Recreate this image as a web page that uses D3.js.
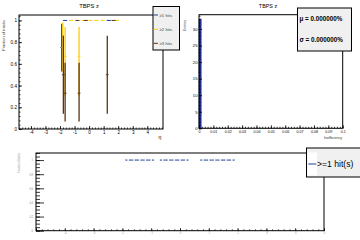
<!DOCTYPE html>
<html>
<head>
<meta charset="utf-8">
<script src="https://cdn.jsdelivr.net/npm/d3@7"></script>
<style>
  html, body { margin: 0; padding: 0; background: #fff; }
  svg { display: block; font-family: "Liberation Sans", Arial, sans-serif; }
</style>
</head>
<body>
<div id="chart"></div>
<script>
// ---- data ----
const panelTitle = "TBPS z";
const seriesNames = ["≥1 hits", "≥2 hits", "≥3 hits"];

// eta bins where the efficiency is exactly 1
const hit1FullEta = [-1.65, 1.35];
const hit2FullEta = [-1.24, -0.39, 0.09, 0.5, 0.94, 1.93];
const hit3FullEta = [-0.8, -0.23, 1.68];

// eta bins below 1, with asymmetric errors
const hit1PartEta = [-1.88];
const hit1PartEff = [0.75];
const hit1PartLo = [0.53];
const hit1PartHi = [0.97];

const hit2PartEta = [-1.81, -1.65, -0.69];
const hit2PartEff = [0.75, 0.67, 0.67];
const hit2PartLo = [0.53, 0.3, 0.3];
const hit2PartHi = [0.98, 0.94, 0.94];

const hit3PartEta = [-1.77, -1.65, -0.69, 1.25];
const hit3PartEff = [0.5, 0.33, 0.33, 0.5];
const hit3PartLo = [0.14, 0.07, 0.07, 0.14];
const hit3PartHi = [0.86, 0.61, 0.61, 0.86];

// inefficiency histogram
const ineffBinLow = [0];
const ineffBinHigh = [0.0015];
const ineffCount = [33];
const statLines = ["μ = 0.000000%", "σ = 0.000000%"];

// event-level efficiency (bottom)
const eventLegend = ">=1 hit(s)";
const eventFullEta = [-1.8, -1.6, -1.4, -1.2, -1.0, -0.6, -0.4, -0.2, 0, 0.2, 0.8, 1.0, 1.2, 1.4, 1.6, 1.8];

// tick values
const etaMajor = [-4, -3, -2, -1, 0, 1, 2, 3, 4];
const fracMajor = [0, 0.2, 0.4, 0.6, 0.8, 1];
const ineffMajor = d3.range(0, 11).map((i) => i / 100);
const countMajor = [0, 5, 10, 15, 20, 25, 30];
const bottomEtaMajor = [-5, -4, -3, -2, -1, 0, 1, 2, 3, 4, 5];

// ---- styles ----
const colors = ["#1c3f94", "#ffcc00", "#5c3311"];
const W = 360, H = 240;

const svg = d3.select("#chart").append("svg")
  .attr("width", W).attr("height", H)
  .attr("viewBox", `0 0 ${W} ${H}`);

svg.append("rect").attr("width", W).attr("height", H).attr("fill", "#fff");

function rootAxes(g, xs, ys, o) {
  const [x0, x1] = xs.range();
  const [y0, y1] = ys.range();

  const xMin = g.append("g").attr("transform", `translate(0,${y0})`)
    .call(d3.axisBottom(xs).tickValues(o.xMinor).tickSize(-o.xMinLen).tickFormat(() => ""));
  const xMaj = g.append("g").attr("transform", `translate(0,${y0})`)
    .call(d3.axisBottom(xs).tickValues(o.xMajor).tickSize(-o.xMajLen)
      .tickPadding(o.xPad).tickFormat(o.xFmt || ((d) => String(d))));
  const yMin = g.append("g").attr("transform", `translate(${x0},0)`)
    .call(d3.axisLeft(ys).tickValues(o.yMinor).tickSize(-o.yMinLen).tickFormat(() => ""));
  const yMaj = g.append("g").attr("transform", `translate(${x0},0)`)
    .call(d3.axisLeft(ys).tickValues(o.yMajor).tickSize(-o.yMajLen)
      .tickPadding(o.yPad).tickFormat((d) => String(d)));

  [xMin, xMaj, yMin, yMaj].forEach((a) => {
    a.select(".domain").remove();
    a.selectAll("line").attr("stroke", "#000").attr("stroke-width", 0.8);
  });
  xMaj.selectAll("text").attr("font-size", o.xFont).attr("fill", o.labelFill || "#000");
  yMaj.selectAll("text").attr("font-size", o.yFont).attr("fill", o.labelFill || "#000");
  if (o.skipX) xMaj.selectAll(".tick text").filter((d) => o.skipX.includes(d)).remove();

  g.append("rect")
    .attr("x", x0).attr("y", y1)
    .attr("width", x1 - x0).attr("height", y0 - y1)
    .attr("fill", "none").attr("stroke", "#000").attr("stroke-width", 1);
}

function errPoint(g, xs, ys, eta, eff, lo, hi, halfW, color, width) {
  g.append("line")
    .attr("x1", xs(eta - halfW)).attr("x2", xs(eta + halfW))
    .attr("y1", ys(eff)).attr("y2", ys(eff))
    .attr("stroke", color).attr("stroke-width", width);
  if (hi > lo) {
    g.append("line")
      .attr("x1", xs(eta)).attr("x2", xs(eta))
      .attr("y1", ys(hi)).attr("y2", ys(lo))
      .attr("stroke", color).attr("stroke-width", 1.3);
  }
}

// ---- top-left: track efficiency vs eta ----
(function () {
  const x = d3.scaleLinear().domain([-4.82, 5.08]).range([19, 163]);
  const y = d3.scaleLinear().domain([0, 1.05]).range([129, 15]);
  const g = svg.append("g");

  rootAxes(g, x, y, {
    xMajor: etaMajor,
    xMinor: d3.range(-24, 26).map((i) => i / 5),
    xMajLen: 3, xMinLen: 1.5, xPad: 2, xFont: 4.5,
    yMajor: fracMajor,
    yMinor: d3.range(0, 27).map((i) => i * 0.04),
    yMajLen: 3, yMinLen: 1.5, yPad: 2, yFont: 4.6,
  });

  const full = [hit1FullEta, hit2FullEta, hit3FullEta];
  const part = [
    [hit1PartEta, hit1PartEff, hit1PartLo, hit1PartHi],
    [hit2PartEta, hit2PartEff, hit2PartLo, hit2PartHi],
    [hit3PartEta, hit3PartEff, hit3PartLo, hit3PartHi],
  ];
  const marks = g.append("g");
  full.forEach((etas, s) => {
    etas.forEach((e) => errPoint(marks, x, y, e, 1, 1, 1, 0.14, colors[s], 1));
  });
  part.forEach(([etas, eff, lo, hi], s) => {
    etas.forEach((e, i) => errPoint(marks, x, y, e, eff[i], lo[i], hi[i], 0.1, colors[s], 0.9));
  });

  g.append("text").attr("x", 89).attr("y", 7.5).attr("text-anchor", "middle")
    .attr("font-size", 5.8).text(panelTitle);
  g.append("text").attr("transform", "translate(5,20) rotate(-90)")
    .attr("text-anchor", "end").attr("font-size", 4).attr("fill", "#333")
    .text("Fraction of tracks");
  g.append("text").attr("x", 160).attr("y", 139).attr("text-anchor", "middle")
    .attr("font-size", 5).text("η");

  // legend
  const lg = svg.append("g");
  lg.append("rect").attr("x", 153).attr("y", 6.5).attr("width", 26.5).attr("height", 43.5)
    .attr("fill", "#f0f0f0").attr("stroke", "#000").attr("stroke-width", 1);
  const rowY = [15, 29.3, 43.3];
  seriesNames.forEach((name, i) => {
    lg.append("line").attr("x1", 153.5).attr("x2", 158).attr("y1", rowY[i]).attr("y2", rowY[i])
      .attr("stroke", colors[i]).attr("stroke-width", 1);
    lg.append("text").attr("x", 159.5).attr("y", rowY[i] + 1.5)
      .attr("font-size", 4.3).attr("fill", "#444").text(name);
  });
})();

// ---- top-right: inefficiency histogram ----
(function () {
  const x = d3.scaleLinear().domain([0, 0.1]).range([199, 342.7]);
  const y = d3.scaleLinear().domain([0, 34.3]).range([128.3, 14.7]);
  const g = svg.append("g");

  g.append("g").selectAll("rect")
    .data(ineffCount.map((c, i) => ({ lo: ineffBinLow[i], hi: ineffBinHigh[i], c })))
    .join("rect")
    .attr("x", (d) => x(d.lo)).attr("width", (d) => x(d.hi) - x(d.lo))
    .attr("y", (d) => y(d.c)).attr("height", (d) => y(0) - y(d.c))
    .attr("fill", "#2233a8").attr("stroke", "#101a60").attr("stroke-width", 0.5);

  rootAxes(g, x, y, {
    xMajor: ineffMajor,
    xMinor: d3.range(0, 51).map((i) => i / 500),
    xMajLen: 3, xMinLen: 1.5, xPad: 2, xFont: 3.6,
    xFmt: (d) => d3.format("~g")(d),
    yMajor: countMajor,
    yMinor: d3.range(0, 35),
    yMajLen: 3, yMinLen: 1.5, yPad: 1.5, yFont: 4.2,
  });

  g.append("text").attr("x", 268).attr("y", 7.5).attr("text-anchor", "middle")
    .attr("font-size", 5.4).text(panelTitle);
  g.append("text").attr("transform", "translate(186,20) rotate(-90)")
    .attr("text-anchor", "end").attr("font-size", 3.6).attr("fill", "#333").text("Entries");
  g.append("text").attr("x", 342).attr("y", 139).attr("text-anchor", "end")
    .attr("font-size", 3.6).attr("fill", "#333").text("Inefficiency");

  const st = svg.append("g");
  st.append("rect").attr("x", 297.5).attr("y", 8).attr("width", 54).attr("height", 43)
    .attr("fill", "#f0f0f0").attr("stroke", "#000").attr("stroke-width", 1);
  statLines.forEach((t, i) => {
    st.append("text").attr("x", 299.5).attr("y", 21 + i * 20.5)
      .attr("font-size", 6.3).attr("font-weight", "bold").text(t);
  });
})();

// ---- bottom: event efficiency vs eta ----
(function () {
  const x = d3.scaleLinear().domain([-5, 5]).range([36, 324]);
  const y = d3.scaleLinear().domain([0, 1.1]).range([230.7, 153]);
  const g = svg.append("g");

  rootAxes(g, x, y, {
    xMajor: bottomEtaMajor,
    xMinor: d3.range(-25, 26).map((i) => i / 5),
    xMajLen: 2.5, xMinLen: 1.3, xPad: 1.2, xFont: 2.6, labelFill: "#888",
    skipX: [-5],
    yMajor: fracMajor,
    yMinor: d3.range(0, 23).map((i) => i * 0.05),
    yMajLen: 8, yMinLen: 4, yPad: 3, yFont: 2.6,
  });

  const marks = g.append("g");
  const half = 0.1, gap = 0.025;
  eventFullEta.forEach((e) => {
    [[e - half, e - gap], [e + gap, e + half]].forEach(([a, b]) => {
      marks.append("line").attr("x1", x(a)).attr("x2", x(b))
        .attr("y1", y(1)).attr("y2", y(1))
        .attr("stroke", colors[0]).attr("stroke-width", 1);
    });
  });

  g.append("text").attr("transform", "translate(19.5,153) rotate(-90)")
    .attr("text-anchor", "end").attr("font-size", 2.6).attr("fill", "#999")
    .text("Fraction of tracks");

  const lg = svg.append("g");
  lg.append("rect").attr("x", 306.5).attr("y", 148).attr("width", 55).attr("height", 29)
    .attr("fill", "#f0f0f0").attr("stroke", "#000").attr("stroke-width", 1);
  lg.append("rect").attr("x", 307.5).attr("y", 152.5).attr("width", 9.5).attr("height", 23)
    .attr("fill", "#fff");
  lg.append("line").attr("x1", 308.3).attr("x2", 316.3).attr("y1", 164).attr("y2", 164)
    .attr("stroke", colors[0]).attr("stroke-width", 1);
  lg.append("text").attr("x", 317).attr("y", 167).attr("font-size", 8.6).text(eventLegend);
})();
</script>
</body>
</html>
